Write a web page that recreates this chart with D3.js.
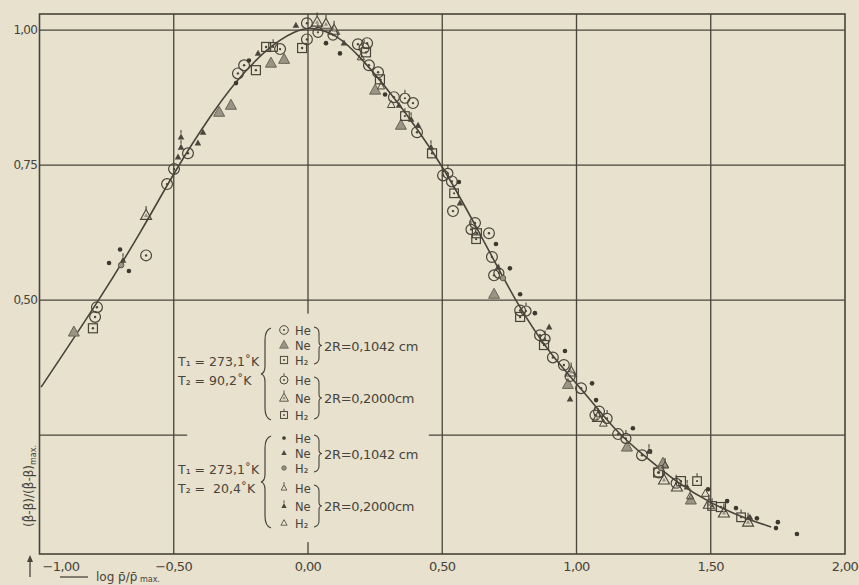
<!DOCTYPE html>
<html>
<head>
<meta charset="utf-8">
<script src="https://cdn.jsdelivr.net/npm/d3@7"></script>
<style>
  html, body { margin: 0; padding: 0; background: #e7e1ce; }
  svg { display: block; }
</style>
</head>
<body>
<div id="chart"></div>
<script>
// axis ticks
const xTicks = [-1, -0.5, 0, 0.5, 1, 1.5, 2]
const yTicks = [0.5, 0.75, 1.0]
const yGrid = [0.25, 0.5, 0.75, 1.0]

// fitted curve (log p/pmax , ratio)
const curveLog = [-0.994, -0.778, -0.622, -0.484, -0.361, -0.276, -0.149, -0.045, 0.011, 0.104, 0.197, 0.32, 0.41, 0.499, 0.62, 0.79, 0.912, 1.017, 1.155, 1.251, 1.371, 1.505, 1.639, 1.725]
const curveRatio = [0.339, 0.5, 0.626, 0.75, 0.843, 0.902, 0.969, 1.0, 1.006, 0.994, 0.95, 0.876, 0.815, 0.75, 0.643, 0.481, 0.394, 0.337, 0.252, 0.213, 0.163, 0.122, 0.094, 0.08]

// T2 = 90,2 K, 2R = 0,1042 cm
const he_1042_90 = [[-0.525, 0.715], [-0.499, 0.743], [-0.447, 0.772], [-0.603, 0.583], [-0.786, 0.487], [-0.793, 0.469], [-0.261, 0.92], [-0.238, 0.935], [-0.104, 0.965], [-0.004, 1.013], [-0.004, 0.983], [0.186, 0.974], [0.22, 0.976], [0.227, 0.935], [0.261, 0.922], [0.32, 0.876], [0.391, 0.865], [0.406, 0.811], [0.503, 0.731], [0.536, 0.72], [0.54, 0.665], [0.622, 0.643], [0.674, 0.624], [0.685, 0.58], [0.693, 0.546], [0.79, 0.481], [0.864, 0.435], [0.912, 0.394], [0.953, 0.38], [1.017, 0.337], [1.084, 0.294], [1.155, 0.252], [1.244, 0.213], [1.307, 0.181]]
const ne_1042_90 = [[-0.872, 0.441], [-0.331, 0.848], [-0.287, 0.861], [-0.138, 0.939], [-0.089, 0.946], [0.25, 0.889], [0.346, 0.824], [0.968, 0.344], [1.188, 0.228], [1.322, 0.198], [1.426, 0.13], [0.693, 0.511]]
const h2_1042_90 = [[-0.801, 0.448], [-0.194, 0.926], [-0.156, 0.969], [-0.022, 0.967], [0.216, 0.959], [0.268, 0.909], [0.462, 0.772], [0.629, 0.624], [0.79, 0.469], [0.879, 0.417], [1.304, 0.181], [1.389, 0.165], [1.538, 0.117]]

// T2 = 90,2 K, 2R = 0,2000 cm
const he_2000_90 = [[0.037, 0.996], [0.093, 0.991], [0.209, 0.967], [0.361, 0.874], [0.521, 0.735], [0.607, 0.631], [0.711, 0.55], [0.812, 0.48], [0.883, 0.428], [0.976, 0.359], [1.114, 0.281], [1.184, 0.244], [1.069, 0.287], [1.371, 0.161]]
const ne_2000_90 = [[-0.603, 0.657], [0.034, 1.015], [0.067, 1.011], [0.097, 1.0], [0.98, 0.367], [1.08, 0.283], [1.326, 0.167], [1.374, 0.154], [1.493, 0.122], [1.549, 0.106], [1.639, 0.089]]
const h2_2000_90 = [[-0.13, 0.969], [0.361, 0.841], [0.544, 0.698], [0.626, 0.613], [1.449, 0.165], [1.505, 0.119], [1.613, 0.098]]

// T2 = 20,4 K, 2R = 0,1042 cm
const he_1042_20 = [[-0.7, 0.594], [-0.741, 0.569], [-0.667, 0.554], [-0.268, 0.902], [-0.22, 0.944], [0.067, 0.976], [0.119, 0.957], [0.287, 0.881], [0.562, 0.719], [0.7, 0.604], [0.752, 0.559], [0.79, 0.511], [0.845, 0.476], [0.957, 0.406], [1.058, 0.346], [1.073, 0.315], [1.21, 0.263], [1.274, 0.22], [1.49, 0.15], [1.561, 0.128], [1.594, 0.115], [1.672, 0.096], [1.75, 0.089], [1.743, 0.078], [1.821, 0.067]]
const ne_1042_20 = [[-0.484, 0.765], [-0.41, 0.791], [-0.391, 0.811], [-0.186, 0.957], [-0.045, 1.009], [0.134, 0.976], [0.339, 0.861], [0.41, 0.824], [0.566, 0.68], [0.708, 0.561], [0.898, 0.45], [0.976, 0.317], [1.646, 0.098]]
const h2_1042_20 = [[-0.696, 0.565], [0.726, 0.541], [1.315, 0.189]]

// T2 = 20,4 K, 2R = 0,2000 cm
const he_2000_20 = [[0.197, 0.95], [0.272, 0.896], [1.33, 0.194], [1.423, 0.137]]
const ne_2000_20 = [[-0.473, 0.802], [-0.473, 0.783], [-0.689, 0.574], [0.384, 0.835], [0.458, 0.783], [1.27, 0.22], [1.412, 0.154]]
const h2_2000_20 = [[1.1, 0.272], [1.48, 0.142], [0.31, 0.862]]

const ink = "#48443a"
const paper = "#e7e1ce"
const shade = "#9a9485"

const width = 859
const height = 585

const svg = d3.select("#chart").append("svg")
  .attr("width", width)
  .attr("height", height)
  .style("font-family", "'DejaVu Sans', sans-serif")

svg.append("rect").attr("width", width).attr("height", height).attr("fill", paper)

const x = d3.scaleLinear().domain([-1, 2]).range([39.5, 845])
const y = d3.scaleLinear().domain([0.03, 1.03]).range([554, 14])

const fmt = (v) => d3.format(".2f")(v).replace(".", ",")

// frame
svg.append("rect")
  .attr("x", x(-1)).attr("y", y(1.03))
  .attr("width", x(2) - x(-1)).attr("height", y(0.03) - y(1.03))
  .attr("fill", "none").attr("stroke", ink).attr("stroke-width", 1.6)

// grid
svg.selectAll(".vgrid").data(xTicks.slice(1, -1)).enter().append("line")
  .attr("x1", (d) => x(d)).attr("x2", (d) => x(d))
  .attr("y1", y(1.03)).attr("y2", y(0.03))
  .attr("stroke", ink).attr("stroke-width", 1.3)

svg.selectAll(".hgrid").data(yGrid).enter().append("line")
  .attr("x1", x(-1)).attr("x2", x(2))
  .attr("y1", (d) => y(d)).attr("y2", (d) => y(d))
  .attr("stroke", ink).attr("stroke-width", 1.3)

// legend area blanks the grid
svg.append("rect")
  .attr("x", x(-0.45)).attr("y", y(0.475))
  .attr("width", x(0.45) - x(-0.45)).attr("height", y(0.052) - y(0.475))
  .attr("fill", paper)

// x tick labels
svg.selectAll(".xlab").data(xTicks).enter().append("text")
  .attr("x", (d, i) => (i === 0 ? x(d) + 3 : x(d)))
  .attr("y", 571)
  .attr("text-anchor", (d, i) => (i === 0 ? "start" : "middle"))
  .attr("font-size", 13)
  .attr("letter-spacing", -0.6)
  .attr("fill", ink)
  .text(fmt)

// y tick labels
svg.selectAll(".ylab").data(yTicks).enter().append("text")
  .attr("x", 37)
  .attr("y", (d) => y(d))
  .attr("dy", "0.35em")
  .attr("text-anchor", "end")
  .attr("font-size", 12)
  .attr("letter-spacing", -0.8)
  .attr("fill", ink)
  .text(fmt)

// axis titles
const yTitle = svg.append("text")
  .attr("transform", "translate(33,486) rotate(-90)")
  .attr("text-anchor", "middle")
  .attr("font-size", 12)
  .attr("fill", ink)
yTitle.append("tspan").text("(\u03b2\u0304-\u03b2)/(\u03b2\u0304-\u03b2)")
yTitle.append("tspan").attr("font-size", 8).attr("dy", 3).text("max.")

svg.append("line").attr("x1", 30).attr("x2", 30).attr("y1", 577).attr("y2", 558)
  .attr("stroke", ink).attr("stroke-width", 1.3)
svg.append("path").attr("d", "M27,562 L30,555 L33,562 Z").attr("fill", ink)

svg.append("line").attr("x1", 60).attr("x2", 88).attr("y1", 577).attr("y2", 577)
  .attr("stroke", ink).attr("stroke-width", 1.3)
const xTitle = svg.append("text")
  .attr("x", 96).attr("y", 581)
  .attr("font-size", 12)
  .attr("fill", ink)
xTitle.append("tspan").text("log p\u0304/p\u0304")
xTitle.append("tspan").attr("font-size", 8).attr("dy", 1).text(" max.")

// curve
const line = d3.line().x((d) => x(d[0])).y((d) => y(d[1])).curve(d3.curveBasis)
svg.append("path")
  .datum(d3.zip(curveLog, curveRatio))
  .attr("d", line)
  .attr("fill", "none")
  .attr("stroke", ink)
  .attr("stroke-width", 1.6)

// markers
const triPath = (h) => `M0,${-h * 0.6} L${h * 0.55},${h * 0.4} L${-h * 0.55},${h * 0.4} Z`
const flag = (g, top) => g.append("line").attr("x1", 0).attr("x2", 0).attr("y1", top).attr("y2", top - 3.5).attr("stroke", ink).attr("stroke-width", 1.1)

const markers = {
  circDot: (g) => {
    g.append("circle").attr("r", 5.4).attr("fill", "none").attr("stroke", ink).attr("stroke-width", 1.2)
    g.append("circle").attr("r", 1.2).attr("fill", ink)
  },
  tri: (g) => {
    g.append("path").attr("d", triPath(10)).attr("fill", shade).attr("stroke", "#6a6558").attr("stroke-width", 1)
  },
  sqDot: (g) => {
    g.append("rect").attr("x", -4.5).attr("y", -4.5).attr("width", 9).attr("height", 9).attr("fill", "none").attr("stroke", ink).attr("stroke-width", 1.2)
    g.append("circle").attr("r", 1.2).attr("fill", ink)
  },
  circFlag: (g) => {
    g.append("circle").attr("r", 5).attr("fill", "none").attr("stroke", ink).attr("stroke-width", 1.2)
    g.append("circle").attr("r", 1.1).attr("fill", ink)
    flag(g, -5)
  },
  triFlag: (g) => {
    g.append("path").attr("d", triPath(10)).attr("fill", "none").attr("stroke", ink).attr("stroke-width", 1.1)
    g.append("path").attr("d", triPath(4)).attr("fill", shade)
    flag(g, -6)
  },
  sqFlag: (g) => {
    g.append("rect").attr("x", -4.3).attr("y", -4.3).attr("width", 8.6).attr("height", 8.6).attr("fill", "none").attr("stroke", ink).attr("stroke-width", 1.2)
    g.append("circle").attr("r", 1.1).attr("fill", ink)
    flag(g, -4.3)
  },
  dot: (g) => {
    g.append("circle").attr("r", 2.3).attr("fill", "#3d3930")
  },
  smallTri: (g) => {
    g.append("path").attr("d", triPath(6)).attr("fill", "#4a463d")
  },
  smallCirc: (g) => {
    g.append("circle").attr("r", 2.8).attr("fill", shade).attr("stroke", ink).attr("stroke-width", 0.8)
  },
  smallTriFlag: (g) => {
    g.append("path").attr("d", triPath(6.5)).attr("fill", "none").attr("stroke", ink).attr("stroke-width", 1)
    flag(g, -3.9)
  },
  smallTriFlagFilled: (g) => {
    g.append("path").attr("d", triPath(6)).attr("fill", "#4a463d")
    flag(g, -3.6)
  },
  smallOpenTri: (g) => {
    g.append("path").attr("d", triPath(7)).attr("fill", "none").attr("stroke", ink).attr("stroke-width", 1)
  },
}

const series = [
  { data: he_1042_90, type: "circDot" },
  { data: ne_1042_90, type: "tri" },
  { data: h2_1042_90, type: "sqDot" },
  { data: he_2000_90, type: "circFlag" },
  { data: ne_2000_90, type: "triFlag" },
  { data: h2_2000_90, type: "sqFlag" },
  { data: he_1042_20, type: "dot" },
  { data: ne_1042_20, type: "smallTri" },
  { data: h2_1042_20, type: "smallCirc" },
  { data: he_2000_20, type: "smallTriFlag" },
  { data: ne_2000_20, type: "smallTriFlagFilled" },
  { data: h2_2000_20, type: "smallOpenTri" },
]

series.forEach((s) => {
  svg.append("g")
    .selectAll("g")
    .data(s.data)
    .enter()
    .append("g")
    .attr("transform", (d) => `translate(${x(d[0])},${y(d[1])})`)
    .each(function () { markers[s.type](d3.select(this)) })
})

// legend
const legendGroups = [
  { top: 328, t1: "T\u2081 = 273,1\u02daK", t2: "T\u2082 = 90,2\u02daK", types: series.slice(0, 6).map((s) => s.type) },
  { top: 436, t1: "T\u2081 = 273,1\u02daK", t2: "T\u2082 =  20,4\u02daK", types: series.slice(6, 12).map((s) => s.type) },
]
const species = ["He", "Ne", "H\u2082", "He", "Ne", "H\u2082"]
const rowY = [2, 17, 32, 52, 70, 87]
const sizes = ["2R=0,1042 cm", "2R=0,2000cm"]

legendGroups.forEach((grp) => {
  const lg = svg.append("g").attr("transform", `translate(178,${grp.top})`)
  lg.append("text").attr("x", 0).attr("y", 38).attr("font-size", 12.5).attr("fill", ink).attr("xml:space", "preserve").text(grp.t1)
  lg.append("text").attr("x", 0).attr("y", 57).attr("font-size", 12.5).attr("fill", ink).attr("xml:space", "preserve").text(grp.t2)
  // big brace
  lg.append("path")
    .attr("d", "M93,0 Q87,2 87,12 L87,38 Q87,45 83,46 Q87,47 87,54 L87,80 Q87,90 93,92")
    .attr("fill", "none").attr("stroke", ink).attr("stroke-width", 1.2)
  rowY.forEach((ry, i) => {
    const mg = lg.append("g").attr("transform", `translate(106,${ry}) scale(0.8)`)
    markers[grp.types[i]](mg)
    lg.append("text").attr("x", 117).attr("y", ry + 4.5).attr("font-size", 11.5).attr("fill", ink).text(species[i])
  })
  // small braces
  ;[[-1, 36], [49, 91]].forEach((b, i) => {
    const mid = (b[0] + b[1]) / 2
    lg.append("path")
      .attr("d", `M136,${b[0]} Q141,${b[0] + 1} 141,${b[0] + 6} L141,${mid - 4} Q141,${mid} 144,${mid} Q141,${mid} 141,${mid + 4} L141,${b[1] - 6} Q141,${b[1] - 1} 136,${b[1]}`)
      .attr("fill", "none").attr("stroke", ink).attr("stroke-width", 1.1)
    lg.append("text").attr("x", 146).attr("y", mid + 5).attr("font-size", 13).attr("letter-spacing", -0.3).attr("fill", ink).text(sizes[i])
  })
})
</script>
</body>
</html>
